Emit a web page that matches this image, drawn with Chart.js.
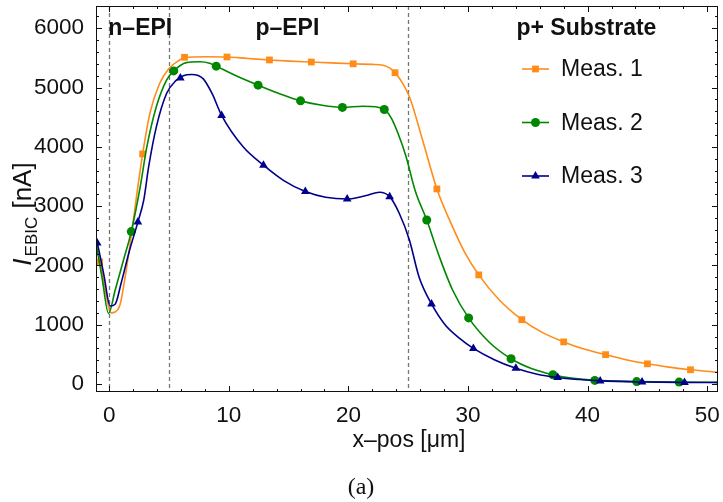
<!DOCTYPE html>
<html>
<head>
<meta charset="utf-8">
<script src="https://cdn.jsdelivr.net/npm/chart.js@4.4.1/dist/chart.umd.min.js"></script>
<style>
  body { margin: 0; background: #fff; }
  #wrap { width: 723px; height: 502px; }
</style>
</head>
<body>
<div id="wrap"><canvas id="ebic"></canvas></div>
<script>
// axis ticks
var xTicks = [0, 10, 20, 30, 40, 50];
var yTicks = [0, 1000, 2000, 3000, 4000, 5000, 6000];

// layer boundaries (x-pos in µm) and layer names
var boundaries = [0, 5, 25];
var layerNames = ['n–EPI', 'p–EPI', 'p+ Substrate'];

var seriesNames = ['Meas. 1', 'Meas. 2', 'Meas. 3'];

// measured points
var meas1X = [-0.8, 2.8, 6.3, 9.85, 13.4, 16.9, 20.4, 23.9, 27.4, 30.9, 34.5, 38.0, 41.5, 45.0, 48.6];
var meas1Y = [2060, 3880, 5510, 5515, 5465, 5430, 5400, 5250, 3290, 1840, 1085, 710, 495, 340, 240];

var meas2X = [1.85, 5.4, 8.95, 12.45, 16.0, 19.5, 23.0, 26.55, 30.05, 33.6, 37.1, 40.6, 44.1, 47.65, 51.15];
var meas2Y = [2570, 5280, 5360, 5040, 4775, 4665, 4630, 2765, 1115, 425, 155, 60, 40, 32, 28];

var meas3X = [-1.0, 2.4, 5.95, 9.4, 12.9, 16.4, 19.9, 23.45, 26.95, 30.45, 34.0, 37.5, 41.05, 44.55, 48.1];
var meas3Y = [2380, 2730, 5160, 4530, 3690, 3245, 3120, 3160, 1350, 600, 265, 110, 50, 32, 25];

// smoothed profiles
var curve1X = [-1.1, -0.75, -0.3, 0.15, 0.5, 0.9, 1.3, 1.8, 2.3, 2.8, 3.4, 4.2, 5.0, 5.9, 6.3, 8.0, 9.85, 11.6, 13.4, 15.1, 16.9, 18.6, 20.4, 22.0, 22.9, 23.9, 25.1, 26.2, 27.4, 28.6, 29.7, 30.9, 32.6, 34.5, 36.2, 38.0, 39.7, 41.5, 43.2, 45.0, 46.8, 48.6, 51.0];
var curve1Y = [2400, 2060, 1550, 1200, 1215, 1330, 1760, 2430, 3180, 3880, 4560, 5060, 5320, 5465, 5505, 5520, 5515, 5490, 5465, 5445, 5430, 5415, 5400, 5390, 5375, 5250, 4845, 4115, 3290, 2700, 2230, 1840, 1420, 1085, 870, 710, 590, 495, 410, 340, 285, 240, 195];

var curve2X = [-1.1, -0.6, -0.05, 0.5, 1.2, 1.85, 2.6, 3.15, 3.95, 4.8, 5.4, 6.45, 7.6, 8.4, 8.95, 10.7, 12.45, 14.2, 16.0, 17.8, 19.5, 21.2, 22.3, 23.0, 23.6, 24.2, 24.8, 25.6, 26.55, 27.6, 28.7, 30.05, 31.8, 33.6, 35.3, 37.1, 38.8, 40.6, 44.1, 47.6, 51.0];
var curve2Y = [2380, 1800, 1190, 1580, 2090, 2570, 3330, 4000, 4680, 5125, 5280, 5420, 5435, 5410, 5360, 5190, 5040, 4900, 4775, 4700, 4665, 4685, 4675, 4630, 4480, 4200, 3850, 3250, 2765, 2150, 1590, 1115, 700, 425, 260, 155, 95, 62, 42, 33, 28];

var curve3X = [-1.1, -1.0, -0.45, 0.08, 0.5, 1.0, 1.7, 2.4, 2.9, 3.3, 3.95, 4.8, 5.6, 6.2, 6.9, 7.85, 8.6, 9.4, 11.2, 12.9, 14.6, 16.4, 18.1, 19.9, 21.5, 22.6, 23.45, 24.25, 25.1, 25.9, 26.95, 28.1, 29.3, 30.45, 32.2, 34.0, 35.7, 37.5, 39.3, 41.05, 44.55, 48.1, 51.0];
var curve3Y = [2440, 2380, 1850, 1315, 1345, 1700, 2250, 2730, 3110, 3660, 4340, 4900, 5120, 5200, 5220, 5150, 4900, 4530, 4000, 3690, 3430, 3245, 3150, 3120, 3180, 3235, 3160, 2880, 2430, 1810, 1350, 995, 770, 600, 410, 265, 170, 110, 75, 52, 33, 26, 24];

var colors = ['rgb(255,140,25)', 'rgb(0,135,0)', 'rgb(0,0,140)'];
var markers = ['rect', 'circle', 'triangle'];
var markerSize = [4.8, 4.5, 5];

function pts(xs, ys) {
    return xs.map(function (x, i) { return { x: x, y: ys[i] }; });
}

var curves = [[curve1X, curve1Y], [curve2X, curve2Y], [curve3X, curve3Y]];
var meas = [[meas1X, meas1Y], [meas2X, meas2Y], [meas3X, meas3Y]];

var datasets = [];
curves.forEach(function (c, i) {
    datasets.push({
        label: seriesNames[i] + ' fit',
        data: pts(c[0], c[1]),
        showLine: true,
        borderColor: colors[i],
        borderWidth: 1.6,
        pointRadius: 0,
        cubicInterpolationMode: 'monotone',
        order: 3 - i
    });
});
meas.forEach(function (m, i) {
    datasets.push({
        label: seriesNames[i],
        data: pts(m[0], m[1]),
        pointStyle: markers[i],
        pointRadius: markerSize[i],
        backgroundColor: colors[i],
        borderColor: colors[i],
        borderWidth: 0,
        clip: 0,
        order: 3 - i
    });
});

var SANS = '"Liberation Sans", Arial, sans-serif';

// frame, inward ticks, layer boundaries, labels and legend
var decor = {
    id: 'decor',
    beforeDatasetsDraw: function (chart) {
        var ctx = chart.ctx, a = chart.chartArea;
        var xs = chart.scales.x;
        ctx.save();
        ctx.strokeStyle = '#777';
        ctx.lineWidth = 1.3;
        ctx.setLineDash([4, 3]);
        boundaries.forEach(function (b) {
            var px = Math.round(xs.getPixelForValue(b)) + 0.5;
            ctx.beginPath();
            ctx.moveTo(px, a.top);
            ctx.lineTo(px, a.bottom);
            ctx.stroke();
        });
        ctx.restore();
    },
    afterDraw: function (chart) {
        var ctx = chart.ctx, a = chart.chartArea;
        var xs = chart.scales.x, ys = chart.scales.y;
        ctx.save();

        // frame
        ctx.strokeStyle = '#111';
        ctx.lineWidth = 1;
        ctx.strokeRect(a.left + 0.5, a.top + 0.5, a.right - a.left - 1, a.bottom - a.top - 1);

        // inward ticks on all sides
        ctx.beginPath();
        for (var v = -1000; v <= 7000; v += 200) {
            if (v < ys.min || v > ys.max) continue;
            var len = v % 1000 === 0 ? 6 : 3;
            var py = Math.round(ys.getPixelForValue(v)) + 0.5;
            ctx.moveTo(a.left, py); ctx.lineTo(a.left + len, py);
            ctx.moveTo(a.right, py); ctx.lineTo(a.right - len, py);
        }
        for (var u = -2; u <= 52; u += 2) {
            if (u < xs.min || u > xs.max) continue;
            var l2 = u % 10 === 0 ? 6 : 3;
            var px = Math.round(xs.getPixelForValue(u)) + 0.5;
            ctx.moveTo(px, a.bottom); ctx.lineTo(px, a.bottom - l2);
            ctx.moveTo(px, a.top); ctx.lineTo(px, a.top + l2);
        }
        ctx.stroke();

        // layer names
        ctx.fillStyle = '#111';
        ctx.font = 'bold 23px ' + SANS;
        ctx.textAlign = 'center';
        ctx.textBaseline = 'middle';
        var nameX = [2.6, 14.9, 39.9];
        layerNames.forEach(function (n, i) {
            ctx.fillText(n, xs.getPixelForValue(nameX[i]), a.top + 23);
        });

        // legend
        ctx.font = '23px ' + SANS;
        ctx.textAlign = 'left';
        var lx = 522, ly = 69, gap = 53.5;
        seriesNames.forEach(function (n, i) {
            var y = ly + i * gap;
            ctx.strokeStyle = colors[i];
            ctx.lineWidth = 1.6;
            ctx.setLineDash([]);
            ctx.beginPath();
            ctx.moveTo(lx, y);
            ctx.lineTo(lx + 27, y);
            ctx.stroke();
            ctx.fillStyle = colors[i];
            Chart.helpers.drawPoint(ctx, { pointStyle: markers[i], radius: markerSize[i], borderWidth: 0 }, lx + 13.5, y);
            ctx.fillStyle = '#111';
            ctx.fillText(n, 561, y + 1);
        });

        // axis titles
        ctx.fillStyle = '#111';
        ctx.textAlign = 'center';
        ctx.font = '23px ' + SANS;
        ctx.fillText('x–pos [μm]', 409, 441);

        ctx.font = '24px "Liberation Serif", "DejaVu Serif", serif';
        ctx.fillText('(a)', 361, 488);

        // y title: I with subscript EBIC
        ctx.translate(31, 214);
        ctx.rotate(-Math.PI / 2);
        ctx.textAlign = 'left';
        ctx.textBaseline = 'alphabetic';
        var fMain = '26px ' + SANS, fItal = 'italic 26px ' + SANS, fSub = '17px ' + SANS;
        ctx.font = fItal; var w1 = ctx.measureText('I').width;
        ctx.font = fSub; var w2 = ctx.measureText('EBIC').width;
        ctx.font = fMain; var w3 = ctx.measureText(' [nA]').width;
        var x0 = -(w1 + w2 + w3 + 3) / 2;
        ctx.font = fItal; ctx.fillText('I', x0, 0);
        ctx.font = fSub; ctx.fillText('EBIC', x0 + w1 + 2, 6);
        ctx.font = fMain; ctx.fillText(' [nA]', x0 + w1 + w2 + 3, 0);

        ctx.restore();
    }
};

new Chart(document.getElementById('ebic'), {
    type: 'scatter',
    data: { datasets: datasets },
    options: {
        responsive: true,
        maintainAspectRatio: false,
        animation: false,
        layout: { padding: { top: 6, right: 3, left: 0, bottom: 0 } },
        plugins: { legend: { display: false }, tooltip: { enabled: false } },
        scales: {
            x: {
                type: 'linear',
                min: -1.1,
                max: 50.9,
                grid: { display: false },
                border: { display: false },
                afterBuildTicks: function (s) { s.ticks = xTicks.map(function (v) { return { value: v }; }); },
                afterFit: function (s) { s.height = 110; s.paddingLeft = 0; s.paddingRight = 0; },
                ticks: {
                    maxRotation: 0,
                    autoSkip: false,
                    padding: 2,
                    color: '#111',
                    font: { family: SANS, size: 22.5 },
                    callback: function (v) { return String(v); }
                }
            },
            y: {
                type: 'linear',
                min: -135,
                max: 6375,
                grid: { display: false },
                border: { display: false },
                afterBuildTicks: function (s) { s.ticks = yTicks.map(function (v) { return { value: v }; }); },
                afterFit: function (s) { s.width = 96; s.paddingTop = 0; s.paddingBottom = 0; },
                ticks: {
                    padding: 4,
                    color: '#111',
                    font: { family: SANS, size: 22.5 },
                    callback: function (v) { return String(v); }
                }
            }
        }
    },
    plugins: [decor]
});
</script>
</body>
</html>
